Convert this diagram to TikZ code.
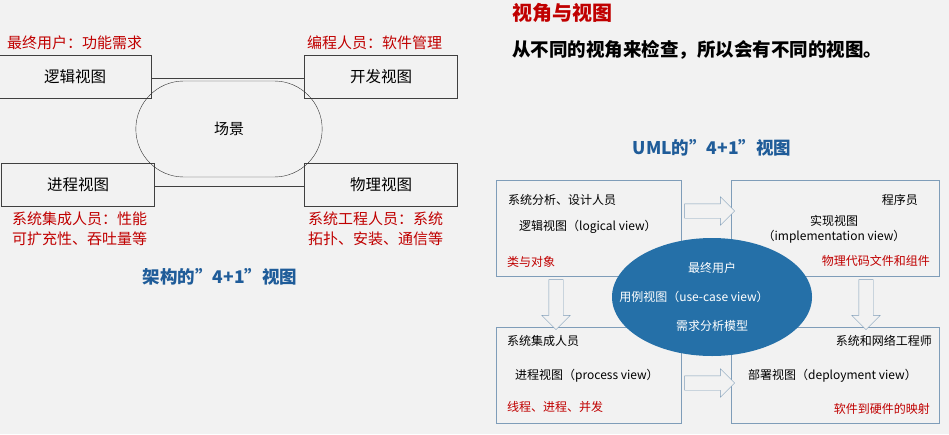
\documentclass[tikz,border=0pt]{standalone}
\usepackage{fontspec}
\setmainfont{Noto Sans CJK SC}
\usetikzlibrary{shapes.arrows,shapes.misc,shapes.geometric}
\definecolor{bg}{HTML}{F2F2F2}
\definecolor{redtxt}{HTML}{C00000}
\definecolor{bluetxt}{HTML}{1F5C99}
\definecolor{ucfill}{HTML}{2570A8}
\definecolor{boxline}{HTML}{7F9DB9}

\begin{document}
\begin{tikzpicture}[x=1pt, y=-1pt,
    viewbox/.style={draw=black!75, fill=bg, minimum width=153pt, minimum height=43pt, font=\fontsize{15.5}{18}\selectfont},
    umlbox/.style={draw=boxline, fill=bg, minimum height=96pt, anchor=north west},
    redlbl/.style={text=redtxt, font=\fontsize{15}{18}\selectfont, inner sep=0pt},
    blktxt/.style={font=\fontsize{12}{14}\selectfont, inner sep=0pt},
    hollow/.style={single arrow, draw=boxline, fill=bg, inner sep=7pt, minimum width=28pt,
        single arrow head extend=7pt, minimum height=50pt}]
    \useasboundingbox[fill=bg] (0,0) rectangle (949,434);

    % Architecture 4+1 view
    \node[viewbox] (logic) at (75,77) {逻辑视图};
    \node[viewbox] (dev) at (381,77) {开发视图};
    \node[viewbox] (proc) at (78,185) {进程视图};
    \node[viewbox] (phys) at (381,185) {物理视图};
    \draw[black!75] (logic.east |- 0,78) -- (dev.west |- 0,78);
    \draw[black!75] (proc.east |- 0,186) -- (phys.west |- 0,186);
    \node[draw=black!80, rounded rectangle, minimum width=193pt, minimum height=96pt,
        font=\fontsize{15}{18}\selectfont] (scene) at (229,129) {场景};

    \node[redlbl, anchor=west] (enduser) at (7,43) {最终用户：功能需求};
    \node[redlbl, anchor=west] (coder) at (307,43) {编程人员：软件管理};
    \node[redlbl, anchor=west, align=left] (integ) at (12,229) {系统集成人员：性能\\[2pt]可扩充性、吞吐量等};
    \node[redlbl, anchor=west, align=left] (syseng) at (308,229) {系统工程人员：系统\\[2pt]拓扑、安装、通信等};
    \node[text=bluetxt, font=\bfseries\fontsize{17.5}{20}\selectfont] (archtitle) at (220,277) {架构的”4+1”视图};

    % UML 4+1 view
    \node[text=redtxt, font=\bfseries\fontsize{20}{24}\selectfont, anchor=west, inner sep=0pt] (viewtitle) at (512,13) {视角与视图};
    \node[font=\bfseries\fontsize{18.5}{22}\selectfont, anchor=west, inner sep=0pt] (viewsub) at (512,50) {从不同的视角来检查，所以会有不同的视图。};
    \node[text=bluetxt, font=\bfseries\fontsize{17.5}{20}\selectfont] (umltitle) at (712,148) {UML的”4+1”视图};

    \node[umlbox, minimum width=185pt] (tl) at (496,180) {};
    \node[umlbox, minimum width=208pt] (tr) at (731,180) {};
    \node[umlbox, minimum width=185pt] (bl) at (496,327) {};
    \node[umlbox, minimum width=208pt] (br) at (731,327) {};

    \node[hollow] (a1) at (706,211) {};
    \node[hollow] (a2) at (706,383) {};
    \node[hollow, rotate=-90] (a3) at (556,301) {};
    \node[hollow, rotate=-90] (a4) at (866,301) {};

    \node[blktxt, anchor=west] at (508,200) {系统分析、设计人员};
    \node[blktxt, anchor=west] at (519,227) {逻辑视图（logical view）};
    \node[redlbl, anchor=west, font=\fontsize{12}{14}\selectfont] at (507,262) {类与对象};

    \node[blktxt, anchor=east] at (918,200) {程序员};
    \node[blktxt, align=center] at (834,229) {实现视图\\[1pt]（implementation view）};
    \node[redlbl, anchor=east, font=\fontsize{12}{14}\selectfont] at (930,261) {物理代码文件和组件};

    \node[blktxt, anchor=west] at (507,341) {系统集成人员};
    \node[blktxt, anchor=west] at (515,376) {进程视图（process view）};
    \node[redlbl, anchor=west, font=\fontsize{12}{14}\selectfont] at (507,407) {线程、进程、并发};

    \node[blktxt, anchor=east] at (932,341) {系统和网络工程师};
    \node[blktxt, anchor=west] at (748,376) {部署视图（deployment view）};
    \node[redlbl, anchor=east, font=\fontsize{12}{14}\selectfont] at (930,409) {软件到硬件的映射};

    \node[ellipse, fill=ucfill, minimum width=200pt, minimum height=118pt] (usecase) at (712,297) {};
    \node[blktxt, text=white] at (712,268) {最终用户};
    \node[blktxt, text=white] at (694,297) {用例视图（use-case view）};
    \node[blktxt, text=white] at (712,326) {需求分析模型};
\end{tikzpicture}
\end{document}
